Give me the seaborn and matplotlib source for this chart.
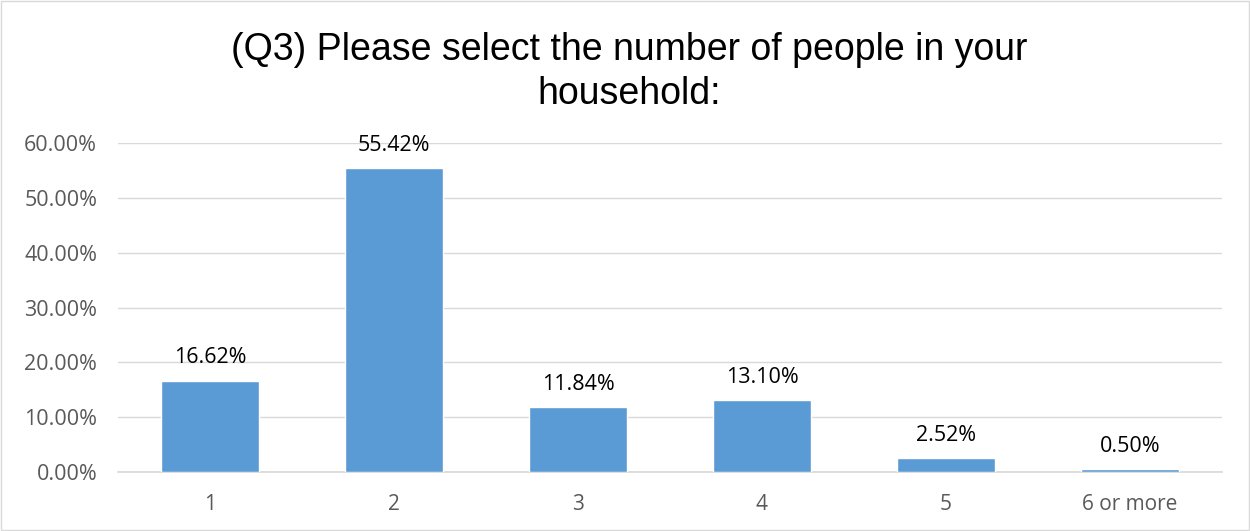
import matplotlib
matplotlib.use("Agg")
import matplotlib.pyplot as plt
import seaborn as sns
import pandas as pd

categories = ["1", "2", "3", "4", "5", "6 or more"]
values = [16.62, 55.42, 11.84, 13.10, 2.52, 0.50]
yticks = [0, 10, 20, 30, 40, 50, 60]
title = "(Q3) Please select the number of people in your\nhousehold:"

sns.set_theme(style="white")
plt.rcParams['font.family'] = ['Open Sans', 'DejaVu Sans']

df = pd.DataFrame({"cat": categories, "val": values})

fig = plt.figure(figsize=(12.5, 5.31), dpi=100)
ax = fig.add_axes([118/1250, 1-472/531, 1104/1250, (472-143)/531])

sns.barplot(data=df, x="cat", y="val", color="#5b9bd5", saturation=1, width=0.53, ax=ax, zorder=3)

ax.set_xlim(-0.5, 5.5)
ax.set_ylim(0, 60)
ax.set_yticks(yticks)
ax.set_yticklabels([f"{v:.2f}%" for v in yticks])
ax.grid(axis="y", color="#d9d9d9", linewidth=1, zorder=0)
ax.set_axisbelow(True)
for s in ["top", "right", "left"]:
    ax.spines[s].set_visible(False)
ax.spines["bottom"].set_color("#d9d9d9")
ax.tick_params(axis="y", length=0, labelsize=15.5, colors="#595959", pad=15)
ax.tick_params(axis="x", length=0, labelsize=15, colors="#595959", pad=16)
ax.set_xlabel("")
ax.set_ylabel("")

for i, v in enumerate(values):
    ax.annotate(f"{v:.2f}%", (i, v), xytext=(0, 9), textcoords="offset points",
                ha="center", va="bottom", fontsize=15.5, color="#000000")

fig.text(0.503, 0.94, title, ha="center", va="top", fontsize=27,
         family=["Liberation Sans", "DejaVu Sans"], color="#000000", linespacing=1.3)

border = plt.Rectangle((0.001, 0.001), 0.998, 0.998, transform=fig.transFigure,
                       fill=False, edgecolor="#d9d9d9", linewidth=1)
fig.patches.append(border)

fig.savefig("out.png", dpi=100)
